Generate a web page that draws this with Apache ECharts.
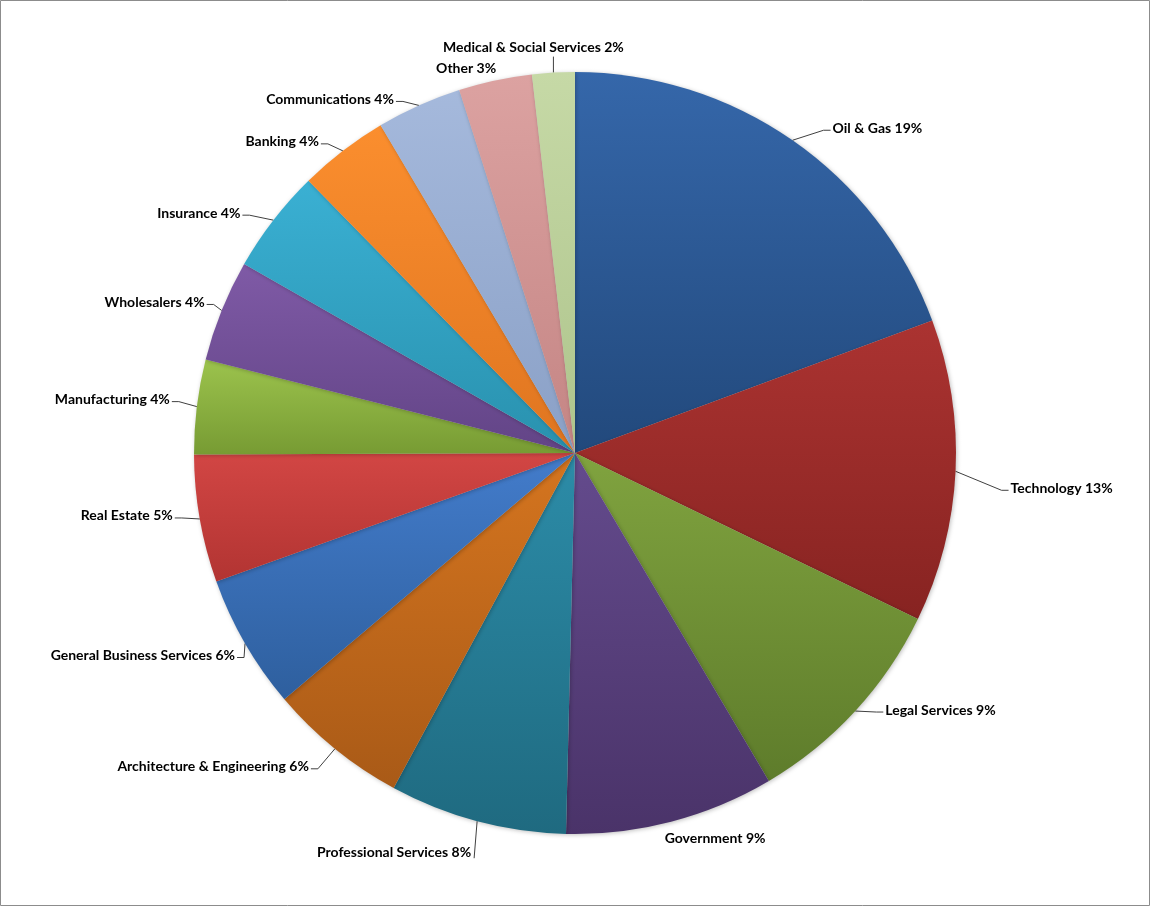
<!DOCTYPE html>
<html>
<head>
<meta charset="utf-8">
<script src="https://cdn.jsdelivr.net/npm/echarts@6/dist/echarts.min.js"></script>
<style>
html,body{margin:0;padding:0;background:#fff;}
#chart{width:1154px;height:908px;}
</style>
</head>
<body>
<div id="chart"></div>
<script>
const categories = ["Oil & Gas","Technology","Legal Services","Government","Professional Services","Architecture & Engineering","General Business Services","Real Estate","Manufacturing","Wholesalers","Insurance","Banking","Communications","Other","Medical & Social Services"];
const shares = [19.3, 12.8, 9.3, 8.85, 7.5, 5.9, 5.7, 5.4, 4.0, 4.3, 4.4, 3.8, 3.6, 3.1, 1.8];
const topColors = ["#3567aa","#ab3331","#80a33f","#644b8d","#2c8ca8","#d5751f","#437ccb","#d24644","#9cc34d","#7f5aa6","#3ab0d3","#fb8e2e","#a5b9dc","#dca2a1","#c6d9a6"];
const bottomColors = ["#22497c","#872321","#5e7c2b","#4a3369","#1f6a80","#a95a17","#2e5f9e","#b23432","#779b33","#624486","#2991ae","#df7520","#8aa0c6","#c48584","#aec48c"];
// label placement style: offset of text anchor from slice edge midpoint, and leader mode
const labelOffsets = [[40,-12],[55,17],[30,-1],[44,17],[-6,31],[-26,18],[-10,12],[-27,-3],[-27,-7],[-17,-8],[-33,-7],[-24,-9],[-25,-6],[1,-12],[-20,-25]];
const labelModes = ["r","r","r","none","down","l","l","l","l","l","l","l","l","lnone","up"];

const chart = echarts.init(document.getElementById('chart'), null, {renderer:'canvas'});
const data = categories.map((c,i)=>({
  name:c, value:shares[i],
  itemStyle:{color:new echarts.graphic.LinearGradient(0,0,0,1,[{offset:0,color:topColors[i]},{offset:1,color:bottomColors[i]}])},
  labelLine:{show: !(labelModes[i]==='none' || labelModes[i]==='lnone')}
}));
function layoutLabel(p){
  const i = p.dataIndex;
  const pts = p.labelLinePoints;
  if(!pts) return {};
  const A = pts[0];
  const off = labelOffsets[i];
  const tx = A[0]+off[0], ty = A[1]+off[1];
  const m = labelModes[i];
  let align = 'left';
  if (m==='l' || m==='lnone' || m==='down') align='right';
  if (m==='none' || m==='up') align='center';
  const res = {x:tx, y:ty, align:align, verticalAlign:'middle'};
  if (m==='r') {
    res.labelLinePoints=[A,[tx-9,ty+2],[tx-2,ty+2]];
  } else if (m==='l') {
    res.labelLinePoints=[A,[tx+9,ty+2],[tx+2,ty+2]];
  } else if (m==='down') {
    res.labelLinePoints=[A,[tx+3,ty+6],[tx+3,ty+6]];
  } else if (m==='up') {
    res.labelLinePoints=[A,[A[0],ty+9],[A[0],ty+9]];
  }
  return res;
}
chart.setOption({
  animation:false,
  backgroundColor:'#ffffff',
  graphic:[{type:'rect',shape:{x:0.5,y:0.5,width:1149,height:905},style:{fill:'none',stroke:'#8c8c8c',lineWidth:1},silent:true,z:-1}],
  series:[{
    type:'pie',
    center:[575,453],
    radius:[0,381],
    startAngle:90,
    clockwise:true,
    percentPrecision:0,
    avoidLabelOverlap:false,
    itemStyle:{borderWidth:0,shadowBlur:4,shadowColor:'rgba(0,0,0,0.25)',shadowOffsetX:1,shadowOffsetY:1},
    label:{show:true,position:'outside',formatter:'{b} {d}%',fontFamily:'Lato',fontWeight:'bold',fontSize:14,color:'#000',alignTo:'none'},
    labelLine:{show:true,length:8,length2:12,lineStyle:{color:'#404040',width:1},smooth:false},
    labelLayout:layoutLabel,
    data:data
  }]
});
</script>
</body>
</html>
